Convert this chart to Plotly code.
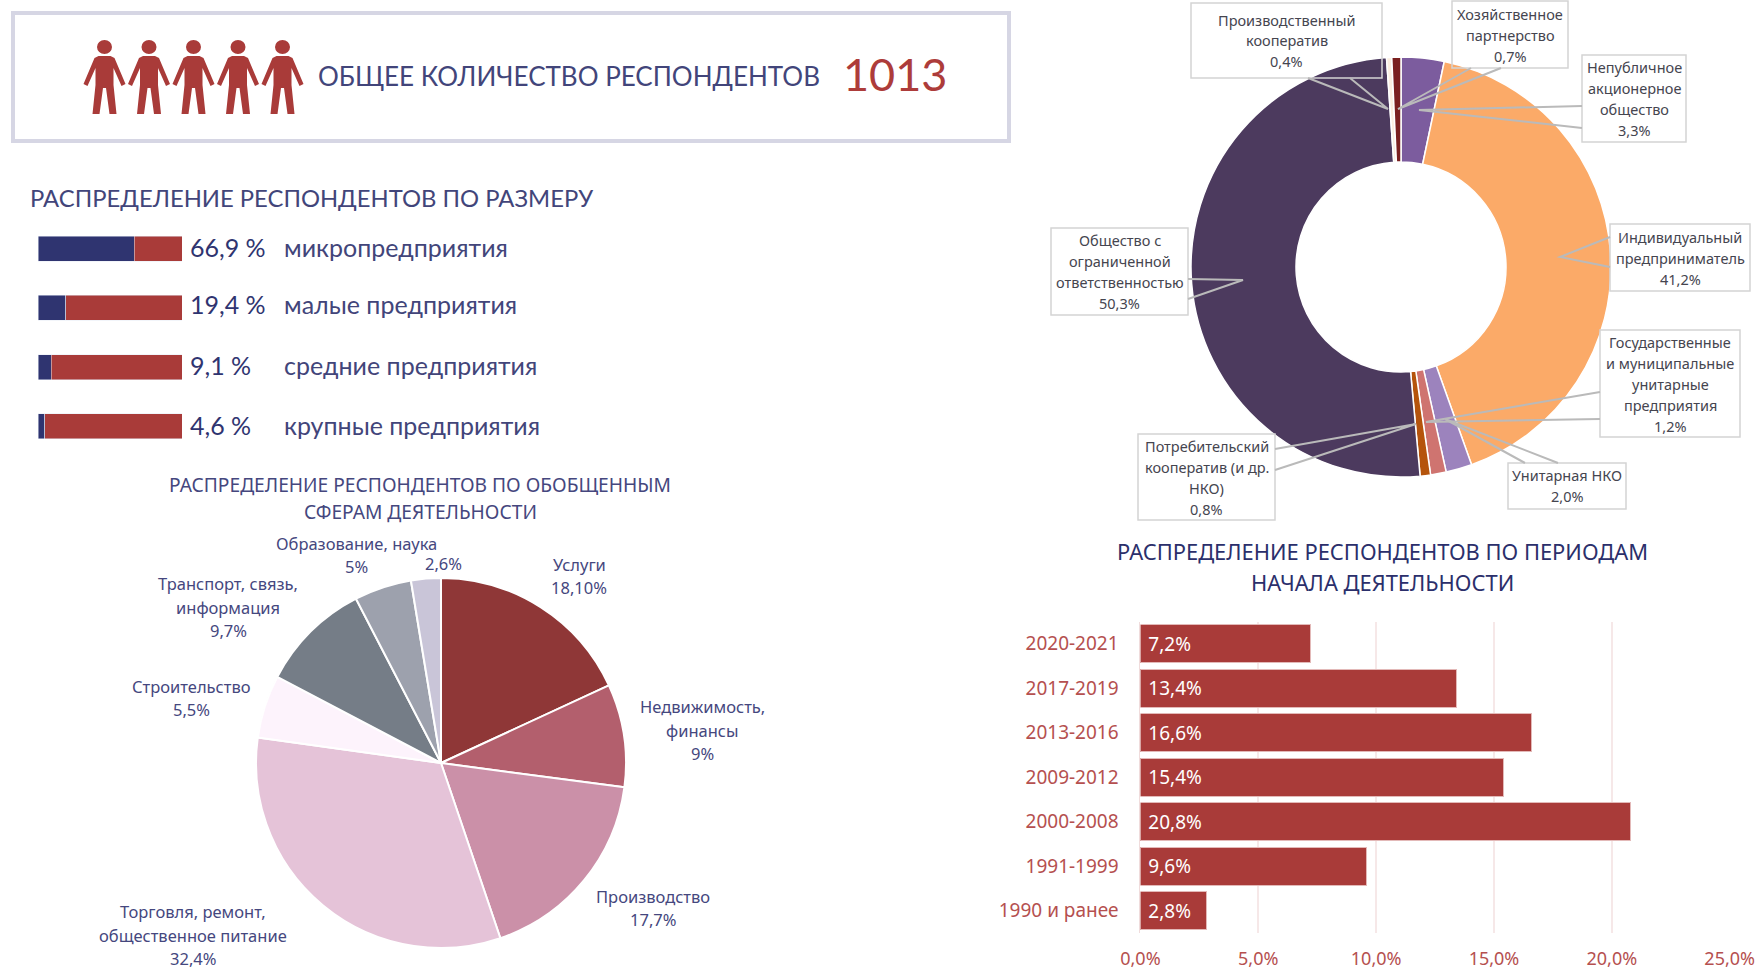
import plotly.graph_objects as go

W, H = 1760, 971
FONT = "Noto Sans"
GEO = "Lato"
NAVY = "#42457a"
RED = "#a93b39"

# --- data ---
size_names = ["микропредприятия", "малые предприятия", "средние предприятия", "крупные предприятия"]
size_values = [66.9, 19.4, 9.1, 4.6]

sector_names = ["Услуги", "Недвижимость, финансы", "Производство", "Торговля, ремонт, общественное питание",
                "Строительство", "Транспорт, связь, информация", "Образование, наука", "Прочее"]
sector_values = [18.1, 9.0, 17.7, 32.4, 5.5, 9.7, 5.0, 2.6]
sector_colors = ["#8f3737", "#b35f6d", "#cb90a8", "#e5c3d8", "#fdf3fc", "#757d87", "#9da1ad", "#c9c5d8"]

form_names = ["Непубличное акционерное общество", "Индивидуальный предприниматель", "Унитарная НКО",
              "Государственные и муниципальные унитарные предприятия", "Потребительский кооператив (и др. НКО)",
              "Общество с ограниченной ответственностью", "Производственный кооператив", "Хозяйственное партнерство"]
form_values = [3.3, 41.2, 2.0, 1.2, 0.8, 50.3, 0.4, 0.7]
form_colors = ["#7c5c9e", "#fbaa68", "#9c83bd", "#cf7470", "#b5540c", "#4c3a5e", "#fbeee0", "#7a1f1f"]

period_names = ["2020-2021", "2017-2019", "2013-2016", "2009-2012", "2000-2008", "1991-1999", "1990 и ранее"]
period_values = [7.2, 13.4, 16.6, 15.4, 20.8, 9.6, 2.8]


def X(x):
    return x / W


def Y(y):
    return 1 - y / H


def dom_x(a, b):
    return [X(a), X(b)]


def dom_y(top, bottom):
    return [Y(bottom), Y(top)]


fig = go.Figure()

# size bars
fig.add_trace(go.Bar(y=size_names, x=size_values, orientation="h", marker_color="#2f3470",
                     xaxis="x2", yaxis="y2", showlegend=False))
fig.add_trace(go.Bar(y=size_names, x=[100 - v for v in size_values], orientation="h", marker_color=RED,
                     xaxis="x2", yaxis="y2", showlegend=False))

# period bars
fig.add_trace(go.Bar(y=period_names, x=period_values, orientation="h",
                     marker=dict(color=RED, line=dict(color="#e3b9b8", width=1)),
                     text=["\u00a0" + f"{v:.1f}".replace(".", ",") + "%" for v in period_values],
                     textposition="inside", insidetextanchor="start", textangle=0,
                     textfont=dict(family=FONT, size=19, color="white"), showlegend=False))

# sector pie
fig.add_trace(go.Pie(labels=sector_names, values=sector_values, sort=False, direction="clockwise", rotation=0,
                     marker=dict(colors=sector_colors, line=dict(color="white", width=2)),
                     textinfo="none", showlegend=False,
                     domain=dict(x=dom_x(441 - 185, 441 + 185), y=dom_y(763 - 185, 763 + 185))))

# form donut
fig.add_trace(go.Pie(labels=form_names, values=form_values, sort=False, direction="clockwise", rotation=0, hole=0.5,
                     marker=dict(colors=form_colors, line=dict(color="white", width=1.5)),
                     textinfo="none", showlegend=False,
                     domain=dict(x=dom_x(1401 - 210, 1401 + 210), y=dom_y(267 - 210, 267 + 210))))

shapes = []
ann = []


def text(x, y, s, size, color=NAVY, family=FONT, anchor="center", lh=None):
    lines = s.split("<br>")
    lh = lh or size * 1.3
    y0 = y - lh * (len(lines) - 1) / 2
    for i, line in enumerate(lines):
        ann.append(dict(x=X(x), y=Y(y0 + i * lh), xref="paper", yref="paper", text=line, showarrow=False,
                        xanchor=anchor, yanchor="middle", align=anchor,
                        font=dict(family=family, size=size, color=color)))


# header
shapes.append(dict(type="rect", xref="paper", yref="paper", x0=X(13), x1=X(1009), y0=Y(13), y1=Y(141),
                   line=dict(color="#d6d6e4", width=4)))
for cx in [104.5, 149, 193.5, 238, 282.5]:
    pts = [(-6, 56), (6, 56), (10, 58), (21, 84), (17, 86), (9, 68), (9, 85), (12, 114), (5, 114), (1.5, 88),
           (-1.5, 88), (-5, 114), (-12, 114), (-9, 85), (-9, 68), (-17, 86), (-21, 84), (-10, 58)]
    path = "M " + " L ".join(f"{X(cx + dx)} {Y(y)}" for dx, y in pts) + " Z"
    shapes.append(dict(type="path", xref="paper", yref="paper", path=path, fillcolor=RED, line=dict(width=0)))
    shapes.append(dict(type="circle", xref="paper", yref="paper", x0=X(cx - 7.5), x1=X(cx + 7.5), y0=Y(40), y1=Y(54),
                       fillcolor=RED, line=dict(width=0)))
text(316, 76, "ОБЩЕЕ КОЛИЧЕСТВО РЕСПОНДЕНТОВ", 26, family=GEO, anchor="left")
text(841, 74, "1013", 45, color="#ad3c3a", family=GEO, anchor="left")

# size section
text(28, 198, "РАСПРЕДЕЛЕНИЕ РЕСПОНДЕНТОВ ПО РАЗМЕРУ", 23.8, family=GEO, anchor="left")
for name, v, yy in zip(size_names, size_values, [247, 304, 365, 425]):
    text(188, yy, f"{v:.1f}".replace(".", ",") + " %", 25, color="#2f3470", family=GEO, anchor="left")
    text(282, yy, name, 25, family=GEO, anchor="left")

# sector section
text(420, 498, "РАСПРЕДЕЛЕНИЕ РЕСПОНДЕНТОВ ПО ОБОБЩЕННЫМ<br>СФЕРАМ ДЕЯТЕЛЬНОСТИ", 19.2, color="#45477e", lh=27)
sector_labels = [
    (579, 576, "Услуги<br>18,10%"), (702, 730, "Недвижимость,<br>финансы<br>9%"), (653, 908, "Производство<br>17,7%"),
    (193, 935, "Торговля, ремонт,<br>общественное питание<br>32,4%"), (191, 698, "Строительство<br>5,5%"),
    (228, 607, "Транспорт, связь,<br>информация<br>9,7%"), (356, 555, "Образование, наука<br>5%"), (443, 563, "2,6%"),
]
for x, y, s in sector_labels:
    text(x, y, s, 16.5, color="#45477e", lh=23.6)

# period title
text(1382, 567, "РАСПРЕДЕЛЕНИЕ РЕСПОНДЕНТОВ ПО ПЕРИОДАМ<br>НАЧАЛА ДЕЯТЕЛЬНОСТИ", 21.9, color="#2b2f6b", lh=31.5)

# donut callouts
callouts = [
    ((1191, 3, 1382, 78), "Производственный<br>кооператив<br>0,4%", [(1308, 78), (1350, 78)], (1388, 109)),
    ((1452, 1, 1568, 68), "Хозяйственное<br>партнерство<br>0,7%", [(1471, 68), (1501, 68)], (1398, 109)),
    ((1582, 55, 1686, 142), "Непубличное<br>акционерное<br>общество<br>3,3%", [(1582, 106), (1582, 128)], (1419, 110)),
    ((1610, 224, 1750, 291), "Индивидуальный<br>предприниматель<br>41,2%", [(1610, 237), (1610, 267)], (1560, 257)),
    ((1600, 330, 1740, 437), "Государственные<br>и муниципальные<br>унитарные<br>предприятия<br>1,2%", [(1600, 392), (1600, 419)], (1426, 422)),
    ((1508, 463, 1626, 509), "Унитарная НКО<br>2,0%", [(1525, 463), (1558, 463)], (1445, 419)),
    ((1138, 434, 1275, 520), "Потребительский<br>кооператив (и др.<br>НКО)<br>0,8%", [(1275, 449), (1275, 470)], (1416, 424)),
    ((1051, 228, 1188, 315), "Общество с<br>ограниченной<br>ответственностью<br>50,3%", [(1188, 279), (1188, 299)], (1243, 280)),
]
for (x0, y0, x1, y1), s, base, tip in callouts:
    shapes.append(dict(type="rect", xref="paper", yref="paper", x0=X(x0), x1=X(x1), y0=Y(y0), y1=Y(y1),
                       line=dict(color="#d4d4d4", width=1.5)))
    path = f"M {X(base[0][0])} {Y(base[0][1])} L {X(tip[0])} {Y(tip[1])} L {X(base[1][0])} {Y(base[1][1])}"
    shapes.append(dict(type="path", xref="paper", yref="paper", path=path, line=dict(color="#bababa", width=2)))
    text((x0 + x1) / 2, (y0 + y1) / 2, s, 14.5, color="#45454f", lh=21)

fig.update_layout(
    width=W, height=H, margin=dict(l=0, r=0, t=0, b=0, autoexpand=False), paper_bgcolor="white", plot_bgcolor="white",
    barmode="stack", separators=",.", shapes=shapes, annotations=ann,
    font=dict(family=FONT),
    xaxis=dict(domain=dom_x(1140.4, 1729.7), range=[0, 25], dtick=5, tickformat=".1f", ticksuffix="%",
               showgrid=True, gridcolor="#f6e8e8", gridwidth=1.5, zeroline=False, showline=False,
               ticks="outside", ticklen=9, tickcolor="rgba(0,0,0,0)", anchor="y",
               tickfont=dict(family=FONT, size=18, color="#b5504f")),
    yaxis=dict(domain=dom_y(621.5, 933), autorange="reversed", type="category", showgrid=False, zeroline=False,
               showline=True, linecolor="#f0dcdc", linewidth=1, ticks="outside", ticklen=17,
               tickcolor="rgba(0,0,0,0)", anchor="x", tickfont=dict(family=FONT, size=19, color="#b5504f")),
    xaxis2=dict(domain=dom_x(38, 182), range=[0, 100], visible=False, anchor="y2"),
    yaxis2=dict(domain=dom_y(219, 456), autorange="reversed", type="category", visible=False, anchor="x2"),
    bargap=0.14,
)
fig.update_traces(width=0.855, selector=dict(type="bar"), xaxis="x")
for i in (0, 1):
    fig.data[i].update(width=0.42, xaxis="x2", yaxis="y2")

fig.write_html("out.html", config=dict(displayModeBar=False),
               post_script="document.body.style.margin='0';document.body.style.overflow='hidden';")
